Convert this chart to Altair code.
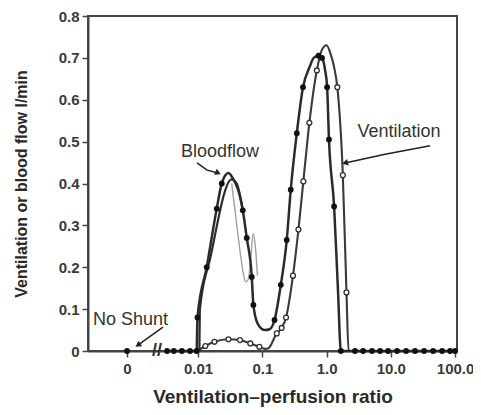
import altair as alt
import pandas as pd

# ---------------- data ----------------
# Bloodflow distribution (filled circles)
bf_vq = [0.0033, 0.0042, 0.0056, 0.0075, 0.0095, 0.0098, 0.01365, 0.01954, 0.0234, 0.0297,
         0.034, 0.0497, 0.0573, 0.0686, 0.0726, 0.085, 0.11, 0.13, 0.155, 0.194, 0.24, 0.277,
         0.344, 0.43, 0.55, 0.63, 0.75, 0.85, 0.95, 1.02, 1.09, 1.31, 1.50, 1.67, 2.77, 3.70,
         5.10, 6.81, 9.06, 12.5, 17.3, 23.8, 32.9, 45.5, 62.8, 83.6, 100.0]
bf_y = [0.0, 0.0, 0.0, 0.0, 0.0, 0.08, 0.20, 0.34, 0.40, 0.425,
        0.415, 0.336, 0.27, 0.177, 0.11, 0.065, 0.05, 0.052, 0.074, 0.158, 0.265, 0.385,
        0.52, 0.63, 0.68, 0.70, 0.705, 0.70, 0.67, 0.63, 0.505, 0.345, 0.15, 0.0, 0.0, 0.0,
        0.0, 0.0, 0.0, 0.0, 0.0, 0.0, 0.0, 0.0, 0.0, 0.0, 0.0]
bf_dot = [1, 1, 1, 1, 1, 1, 1, 1, 1, 0,
          0, 1, 1, 1, 1, 0, 0, 0, 1, 1, 1, 1,
          1, 1, 0, 0, 1, 1, 0, 1, 1, 1, 0, 1, 1, 1,
          1, 1, 1, 1, 1, 1, 1, 1, 1, 1, 1]

# second bloodflow trace near the low V/Q mode (no markers)
bf2_vq = [0.0105, 0.0107, 0.0154, 0.0334, 0.040, 0.0497]
bf2_y = [0.0, 0.10, 0.22, 0.41, 0.40, 0.336]

# thin grey trace near the low V/Q mode
gray_vq = [0.0334, 0.038, 0.044, 0.050, 0.055, 0.060, 0.066, 0.072, 0.078, 0.084]
gray_y = [0.40, 0.33, 0.25, 0.19, 0.165, 0.17, 0.22, 0.28, 0.25, 0.18]

# Ventilation distribution (open circles)
vent_vq = [0.0098, 0.013, 0.018, 0.0297, 0.045, 0.065, 0.09, 0.11, 0.123, 0.168, 0.2, 0.234,
           0.30, 0.365, 0.435, 0.54, 0.705, 0.85, 1.0, 1.15, 1.30, 1.47, 1.79, 2.04, 2.2, 2.5]
vent_y = [0.0, 0.012, 0.022, 0.028, 0.026, 0.018, 0.010, 0.005, 0.006, 0.042, 0.055, 0.08,
          0.18, 0.29, 0.405, 0.545, 0.67, 0.72, 0.73, 0.71, 0.68, 0.63, 0.42, 0.14, 0.0, 0.0]
vent_dot = [0, 1, 1, 1, 1, 1, 1, 0, 0, 1, 1, 1,
            1, 1, 1, 1, 1, 0, 0, 0, 0, 1, 1, 1, 0, 0]

# shunt compartment (V/Q = 0)
shunt_y = [0.0]
ZERO_POS = 0.000785           # where "0" sits on the broken log axis
X_DOMAIN = [0.000194, 107.0]

x_ticks = [ZERO_POS, 0.01, 0.1, 1, 10, 100]
y_ticks = [0, 0.1, 0.2, 0.3, 0.4, 0.5, 0.6, 0.7, 0.8]

# annotations
lab_center_text = ["Bloodflow", "Ventilation"]
lab_center_vq = [0.022, 13.4]
lab_center_val = [0.475, 0.523]
lab_left_text = ["No Shunt"]
lab_left_vq = [0.000232]
lab_left_val = [0.074]

arrow_id = ["bf", "bf", "bf", "vent", "vent", "vent", "ns", "ns"]
arrow_vq = [0.00965, 0.0138, 0.0205, 40.8, 8.13, 1.94, 0.00285, 0.00116]
arrow_val = [0.449, 0.432, 0.425, 0.49, 0.47, 0.449, 0.057, 0.014]
head_vq = [0.0205, 1.94, 0.00116]
head_val = [0.425, 0.449, 0.014]
head_shape = ["triangle-right", "triangle-left", "triangle-left"]
head_angle = [25, 345, 324]

break_vq = [0.0023]
break_val = [0.0]

# ---------------- frames ----------------
bf = pd.DataFrame({"vq": bf_vq, "val": bf_y, "dot": bf_dot, "i": range(len(bf_vq))})
bf2 = pd.DataFrame({"vq": bf2_vq, "val": bf2_y, "i": range(len(bf2_vq))})
gr = pd.DataFrame({"vq": gray_vq, "val": gray_y, "i": range(len(gray_vq))})
ve = pd.DataFrame({"vq": vent_vq, "val": vent_y, "dot": vent_dot, "i": range(len(vent_vq))})
sh = pd.DataFrame({"vq": [ZERO_POS] * len(shunt_y), "val": shunt_y})
lc = pd.DataFrame({"vq": lab_center_vq, "val": lab_center_val, "t": lab_center_text})
ll = pd.DataFrame({"vq": lab_left_vq, "val": lab_left_val, "t": lab_left_text})
ar = pd.DataFrame({"vq": arrow_vq, "val": arrow_val, "id": arrow_id, "i": range(len(arrow_vq))})
hd = pd.DataFrame({"vq": head_vq, "val": head_val, "s": head_shape, "a": head_angle})
br = pd.DataFrame({"vq": break_vq, "val": break_val})

label_expr = ("datum.value < 0.001 ? '0' : datum.value < 1 ? format(datum.value, '.2~f') "
              ": format(datum.value, '.1f')")
X = alt.X("vq:Q", scale=alt.Scale(type="log", domain=X_DOMAIN),
          axis=alt.Axis(values=x_ticks, labelExpr=label_expr,
                        title="Ventilation\u2013perfusion ratio", titlePadding=11,
                        labelPadding=4))
Y = alt.Y("val:Q", scale=alt.Scale(domain=[0, 0.8]),
          axis=alt.Axis(values=y_ticks,
                        labelExpr="datum.value == 0 ? '0' : format(datum.value, '.1f')",
                        title="Ventilation or blood flow l/min", titlePadding=29,
                        labelPadding=3))

INK = "#2b2b2b"

bf_line = alt.Chart(bf).mark_line(color=INK, strokeWidth=2.5, interpolate="monotone").encode(
    x=X, y=Y, order="i:Q")
bf2_line = alt.Chart(bf2).mark_line(color=INK, strokeWidth=2.2, interpolate="monotone").encode(
    x=X, y=Y, order="i:Q")
gr_line = alt.Chart(gr).mark_line(color="#a0a0a0", strokeWidth=1.4, interpolate="monotone").encode(
    x=X, y=Y, order="i:Q")
ve_line = alt.Chart(ve).mark_line(color="#3a3a3a", strokeWidth=2.1, interpolate="monotone").encode(
    x=X, y=Y, order="i:Q")

bf_pts = alt.Chart(bf).transform_filter("datum.dot == 1").mark_point(
    shape="circle", filled=True, color="#111111", size=34, opacity=1).encode(x=X, y=Y)
ve_pts = alt.Chart(ve).transform_filter("datum.dot == 1").mark_point(
    shape="circle", filled=True, fill="white", stroke="#333333", strokeWidth=1.3,
    size=24, opacity=1).encode(x=X, y=Y)
sh_pts = alt.Chart(sh).mark_point(shape="circle", filled=True, color="#111111",
                                  size=34, opacity=1).encode(x=X, y=Y)

txt_c = alt.Chart(lc).mark_text(font="Liberation Sans", fontSize=18, color="#333333",
                                align="center", baseline="middle").encode(x=X, y=Y, text="t:N")
txt_l = alt.Chart(ll).mark_text(font="Liberation Sans", fontSize=18, color="#333333",
                                align="left", baseline="middle").encode(x=X, y=Y, text="t:N")

arrows = alt.Chart(ar).mark_line(color="#222222", strokeWidth=1.5).encode(
    x=X, y=Y, detail="id:N", order="i:Q")
heads = alt.Chart(hd).mark_point(filled=True, color="#222222", size=45, opacity=1).encode(
    x=X, y=Y, shape=alt.Shape("s:N", scale=None), angle=alt.Angle("a:Q", scale=None))

brk = alt.Chart(br).mark_text(text="//", font="Liberation Sans", fontSize=18,
                              fontWeight="bold", color="#333333",
                              align="center", baseline="middle").encode(x=X, y=Y)

chart = alt.layer(
    gr_line, ve_line, bf2_line, bf_line, ve_pts, bf_pts, sh_pts,
    arrows, heads, txt_c, txt_l, brk
).properties(
    width=369, height=335,
    autosize=alt.AutoSizeParams(type="none"),
    padding={"left": 80, "top": 8, "right": 16, "bottom": 56},
    background="white",
).configure_view(
    stroke="#444444", strokeWidth=2
).configure_axis(
    grid=False, domainColor="#444444", domainWidth=2, tickColor="#444444",
    tickWidth=1.5, tickSize=6,
    labelFont="Liberation Sans", labelFontSize=15, labelFontWeight="bold",
    labelColor="#3a3a3a",
    titleFont="Liberation Sans", titleFontWeight="bold", titleColor="#2a2a2a",
).configure_axisX(titleFontSize=19).configure_axisY(titleFontSize=16)

chart.save("out.html", embed_options={"renderer": "svg", "actions": False})
